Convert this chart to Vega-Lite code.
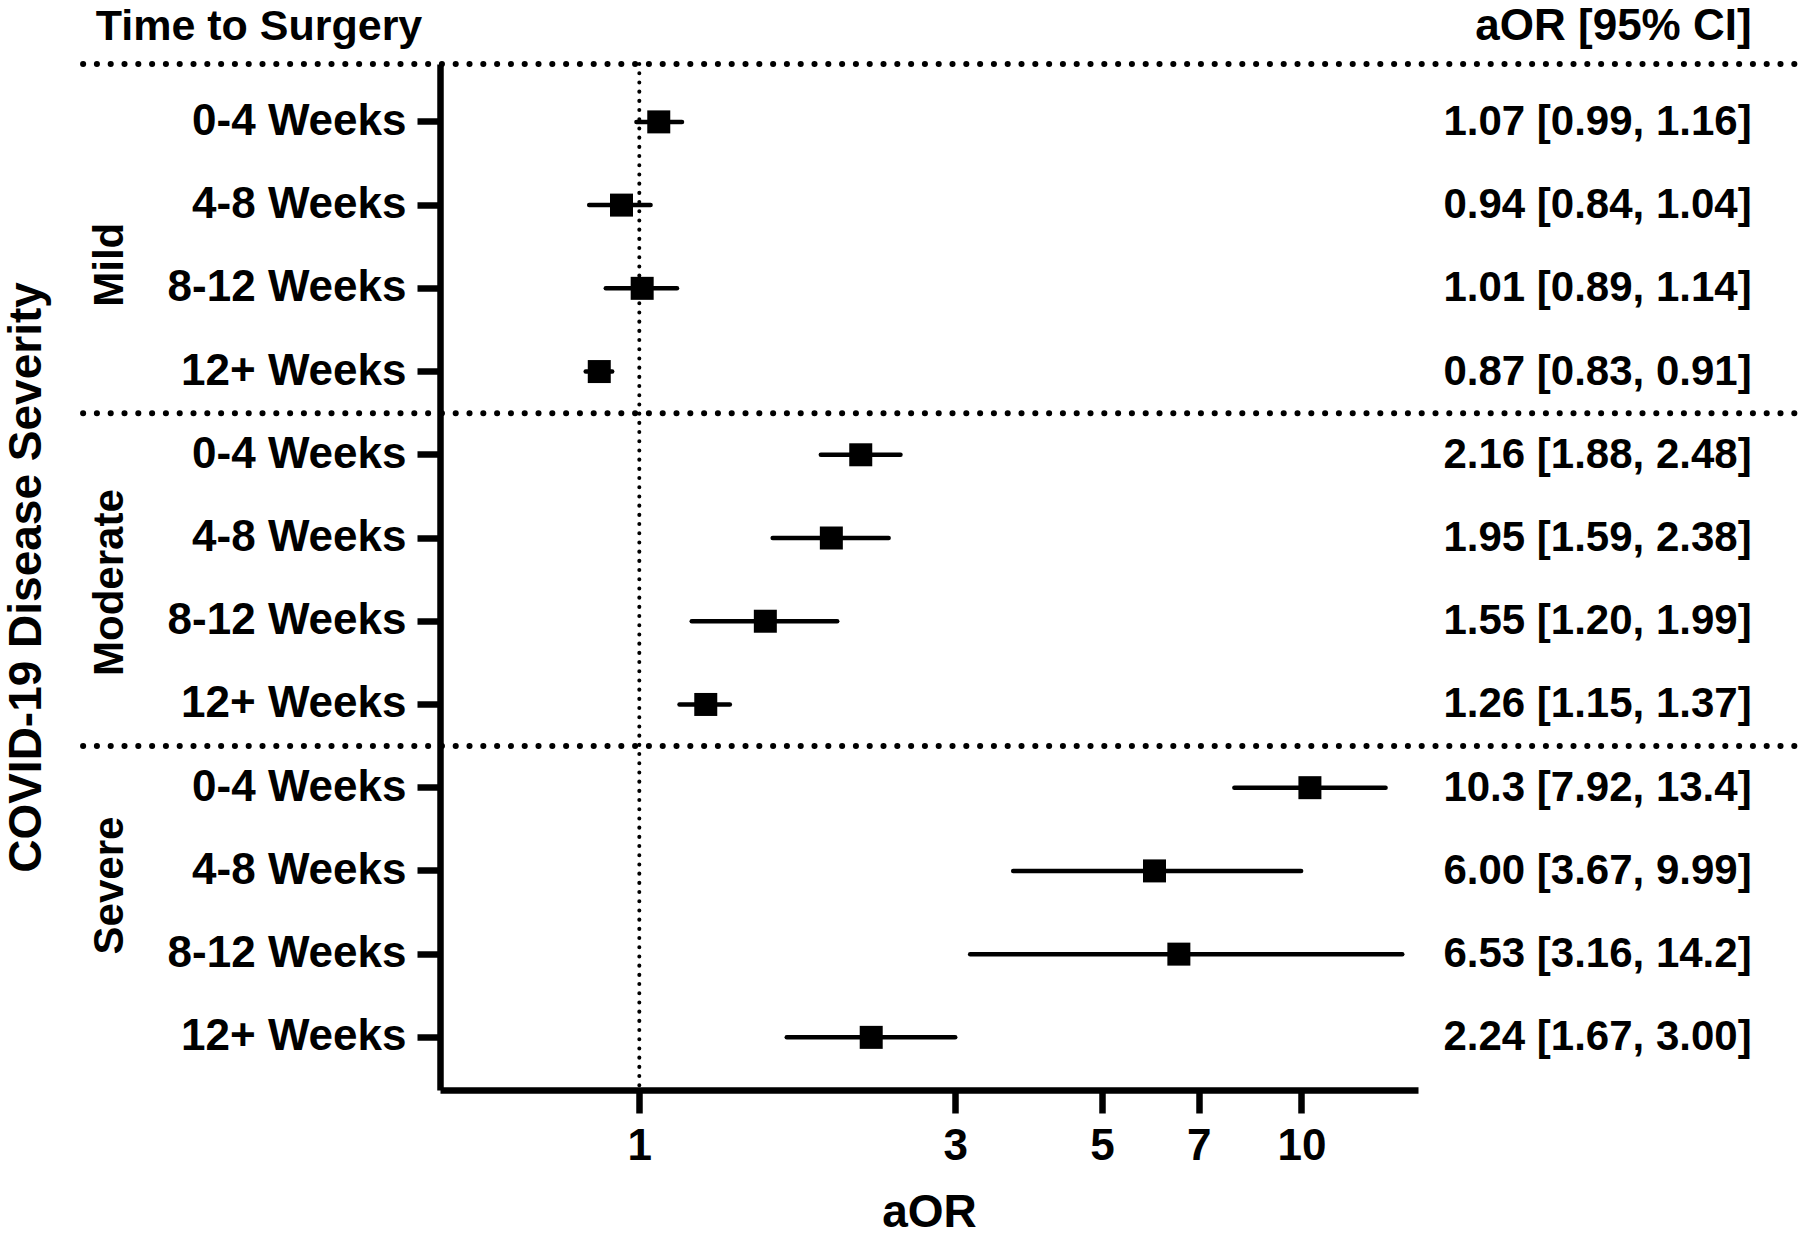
{
  "$schema": "https://vega.github.io/schema/vega-lite/v6.json",
  "width": 978,
  "height": 1026,
  "autosize": {"type": "none"},
  "padding": {"left": 440, "top": 64, "right": 382, "bottom": 145},
  "background": "white",
  "config": {"view": {"stroke": null}, "font": "Liberation Sans"},
  "resolve": {"axis": {"x": "independent", "y": "independent"}},
  "datasets": {
    "main": [
      {"row": "Mild|0-4 Weeks", "group": "Mild", "time": "0-4 Weeks", "aor": 1.07, "lo": 0.99, "hi": 1.16, "ci": "1.07 [0.99, 1.16]"},
      {"row": "Mild|4-8 Weeks", "group": "Mild", "time": "4-8 Weeks", "aor": 0.94, "lo": 0.84, "hi": 1.04, "ci": "0.94 [0.84, 1.04]"},
      {"row": "Mild|8-12 Weeks", "group": "Mild", "time": "8-12 Weeks", "aor": 1.01, "lo": 0.89, "hi": 1.14, "ci": "1.01 [0.89, 1.14]"},
      {"row": "Mild|12+ Weeks", "group": "Mild", "time": "12+ Weeks", "aor": 0.87, "lo": 0.83, "hi": 0.91, "ci": "0.87 [0.83, 0.91]"},
      {"row": "Moderate|0-4 Weeks", "group": "Moderate", "time": "0-4 Weeks", "aor": 2.16, "lo": 1.88, "hi": 2.48, "ci": "2.16 [1.88, 2.48]"},
      {"row": "Moderate|4-8 Weeks", "group": "Moderate", "time": "4-8 Weeks", "aor": 1.95, "lo": 1.59, "hi": 2.38, "ci": "1.95 [1.59, 2.38]"},
      {"row": "Moderate|8-12 Weeks", "group": "Moderate", "time": "8-12 Weeks", "aor": 1.55, "lo": 1.20, "hi": 1.99, "ci": "1.55 [1.20, 1.99]"},
      {"row": "Moderate|12+ Weeks", "group": "Moderate", "time": "12+ Weeks", "aor": 1.26, "lo": 1.15, "hi": 1.37, "ci": "1.26 [1.15, 1.37]"},
      {"row": "Severe|0-4 Weeks", "group": "Severe", "time": "0-4 Weeks", "aor": 10.3, "lo": 7.92, "hi": 13.4, "ci": "10.3 [7.92, 13.4]"},
      {"row": "Severe|4-8 Weeks", "group": "Severe", "time": "4-8 Weeks", "aor": 6.00, "lo": 3.67, "hi": 9.99, "ci": "6.00 [3.67, 9.99]"},
      {"row": "Severe|8-12 Weeks", "group": "Severe", "time": "8-12 Weeks", "aor": 6.53, "lo": 3.16, "hi": 14.2, "ci": "6.53 [3.16, 14.2]"},
      {"row": "Severe|12+ Weeks", "group": "Severe", "time": "12+ Weeks", "aor": 2.24, "lo": 1.67, "hi": 3.00, "ci": "2.24 [1.67, 3.00]"}
    ],
    "seps": [
      {"row": "Mild|12+ Weeks"},
      {"row": "Moderate|12+ Weeks"}
    ],
    "gMild": [{"group": "Mild", "row": "Mild|4-8 Weeks"}],
    "gModerate": [{"group": "Moderate", "row": "Moderate|4-8 Weeks"}],
    "gSevere": [{"group": "Severe", "row": "Severe|4-8 Weeks"}],
    "hleft": [{"h": "Time to Surgery"}],
    "hright": [{"h": "aOR [95% CI]"}],
    "one": [{}]
  },
  "layer": [
    {
      "data": {"name": "main"},
      "mark": {"type": "point", "shape": "square", "filled": true, "size": 529, "color": "black", "opacity": 1},
      "encoding": {
        "x": {
          "field": "aor", "type": "quantitative",
          "scale": {"type": "log", "domain": [0.5, 15], "nice": false},
          "axis": {
            "values": [1, 3, 5, 7, 10], "format": "d", "title": "aOR", "grid": false,
            "domainWidth": 6.5, "domainColor": "black",
            "tickSize": 23, "tickWidth": 6.5, "tickColor": "black",
            "labelFont": "Liberation Sans", "labelFontSize": 44, "labelFontWeight": "bold", "labelColor": "black",
            "labelPadding": 11, "labelFlush": false, "labelOverlap": false,
            "titleFont": "Liberation Sans", "titleFontSize": 46, "titleFontWeight": "bold", "titleColor": "black",
            "titlePadding": 22
          }
        },
        "y": {
          "field": "row", "type": "nominal",
          "scale": {
            "type": "band",
            "domain": ["Mild|0-4 Weeks", "Mild|4-8 Weeks", "Mild|8-12 Weeks", "Mild|12+ Weeks",
                       "Moderate|0-4 Weeks", "Moderate|4-8 Weeks", "Moderate|8-12 Weeks", "Moderate|12+ Weeks",
                       "Severe|0-4 Weeks", "Severe|4-8 Weeks", "Severe|8-12 Weeks", "Severe|12+ Weeks"],
            "paddingInner": 0, "paddingOuter": 0.164, "align": 0.596
          },
          "axis": {
            "title": "COVID-19 Disease Severity",
            "labelExpr": "split(datum.label, '|')[1]",
            "labelFont": "Liberation Sans", "labelFontSize": 44, "labelFontWeight": "bold", "labelColor": "black",
            "labelPadding": 11, "labelLimit": 500,
            "tickSize": 23, "tickWidth": 6.5, "tickColor": "black",
            "domainWidth": 6.5, "domainColor": "black",
            "titleFont": "Liberation Sans", "titleFontSize": 46, "titleFontWeight": "bold", "titleColor": "black",
            "titleX": -400, "titleY": 513, "titleAngle": 270, "titleAlign": "center", "titleBaseline": "alphabetic"
          }
        }
      }
    },
    {
      "data": {"name": "main"},
      "mark": {"type": "rule", "strokeWidth": 4.5, "strokeCap": "round", "color": "black"},
      "encoding": {
        "y": {"field": "row", "type": "nominal", "axis": null},
        "x": {"field": "lo", "type": "quantitative", "axis": null},
        "x2": {"field": "hi"}
      }
    },
    {
      "data": {"name": "seps"},
      "mark": {"type": "rule", "strokeWidth": 6, "strokeDash": [0.1, 13.7], "strokeCap": "round", "color": "black"},
      "encoding": {
        "y": {"field": "row", "type": "nominal", "bandPosition": 1, "axis": null},
        "x": {"datum": 0.1445, "type": "quantitative", "axis": null},
        "x2": {"datum": 60}
      }
    },
    {
      "data": {"name": "one"},
      "mark": {"type": "rule", "strokeWidth": 6, "strokeDash": [0.1, 13.7], "strokeCap": "round", "color": "black"},
      "encoding": {
        "y": {"value": 0},
        "x": {"datum": 0.1445, "type": "quantitative", "axis": null},
        "x2": {"datum": 60}
      }
    },
    {
      "data": {"name": "one"},
      "mark": {"type": "rule", "strokeWidth": 4, "strokeDash": [0.1, 9.1], "strokeCap": "round", "color": "black"},
      "encoding": {
        "x": {"datum": 1, "type": "quantitative", "axis": null}
      }
    },
    {
      "data": {"name": "main"},
      "mark": {"type": "text", "align": "right", "baseline": "middle", "font": "Liberation Sans", "fontSize": 42, "fontWeight": "bold", "color": "black"},
      "encoding": {
        "x": {"datum": 47.86, "type": "quantitative", "axis": null},
        "y": {"field": "row", "type": "nominal", "axis": null},
        "text": {"field": "ci"}
      }
    },
    {
      "data": {"name": "gMild"},
      "mark": {"type": "text", "align": "center", "baseline": "middle", "angle": 270, "yOffset": 18, "font": "Liberation Sans", "fontSize": 42, "fontWeight": "bold", "color": "black"},
      "encoding": {
        "x": {"datum": 0.1587, "type": "quantitative", "axis": null},
        "y": {"field": "row", "type": "nominal", "bandPosition": 1, "axis": null},
        "text": {"field": "group"}
      }
    },
    {
      "data": {"name": "gModerate"},
      "mark": {"type": "text", "align": "center", "baseline": "middle", "angle": 270, "yOffset": 3, "font": "Liberation Sans", "fontSize": 42, "fontWeight": "bold", "color": "black"},
      "encoding": {
        "x": {"datum": 0.1587, "type": "quantitative", "axis": null},
        "y": {"field": "row", "type": "nominal", "bandPosition": 1, "axis": null},
        "text": {"field": "group"}
      }
    },
    {
      "data": {"name": "gSevere"},
      "mark": {"type": "text", "align": "center", "baseline": "middle", "angle": 270, "yOffset": -27, "font": "Liberation Sans", "fontSize": 42, "fontWeight": "bold", "color": "black"},
      "encoding": {
        "x": {"datum": 0.1587, "type": "quantitative", "axis": null},
        "y": {"field": "row", "type": "nominal", "bandPosition": 1, "axis": null},
        "text": {"field": "group"}
      }
    },
    {
      "data": {"name": "hleft"},
      "mark": {"type": "text", "align": "left", "baseline": "alphabetic", "dy": -82, "font": "Liberation Sans", "fontSize": 43, "fontWeight": "bold", "color": "black"},
      "encoding": {
        "x": {"datum": 0.1510, "type": "quantitative", "axis": null},
        "y": {"datum": "Mild|0-4 Weeks", "type": "nominal", "axis": null},
        "text": {"field": "h"}
      }
    },
    {
      "data": {"name": "hright"},
      "mark": {"type": "text", "align": "right", "baseline": "alphabetic", "dy": -82, "font": "Liberation Sans", "fontSize": 44, "fontWeight": "bold", "color": "black"},
      "encoding": {
        "x": {"datum": 47.86, "type": "quantitative", "axis": null},
        "y": {"datum": "Mild|0-4 Weeks", "type": "nominal", "axis": null},
        "text": {"field": "h"}
      }
    }
  ]
}
